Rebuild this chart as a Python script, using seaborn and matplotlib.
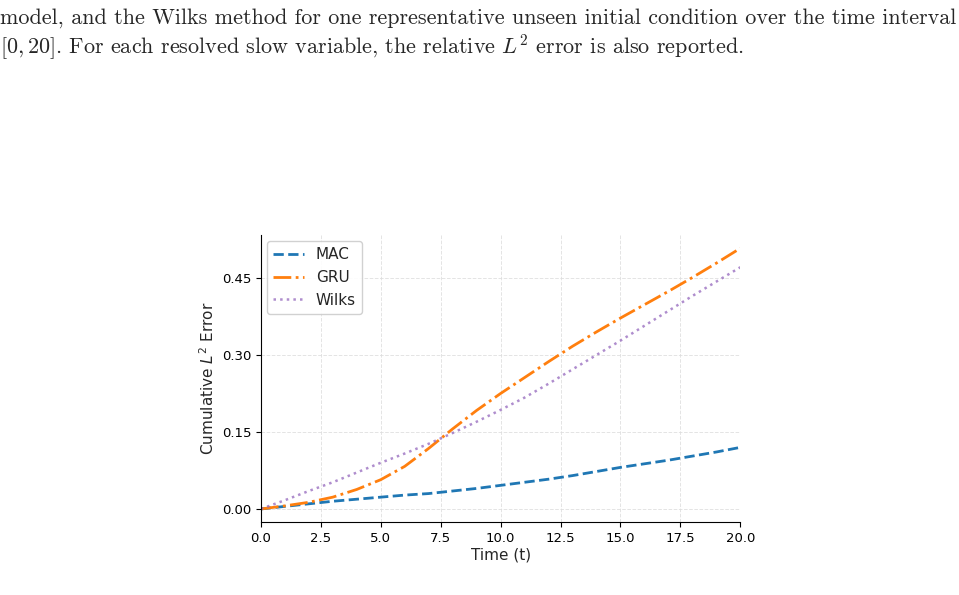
import matplotlib
matplotlib.use("Agg")
import matplotlib.pyplot as plt
import seaborn as sns
import pandas as pd

# cumulative L2 error, t = 0..20 step 1
time = [0, 1, 2, 3, 4, 5, 6, 7, 8, 9, 10, 11, 12, 13, 14, 15, 16, 17, 18, 19, 20]
mac = [0, 0.005, 0.010, 0.015, 0.019, 0.023, 0.027, 0.030, 0.035, 0.040, 0.046,
       0.052, 0.058, 0.065, 0.073, 0.081, 0.088, 0.095, 0.103, 0.111, 0.120]
gru = [0, 0.006, 0.013, 0.023, 0.038, 0.057, 0.083, 0.118, 0.156, 0.192, 0.225,
       0.256, 0.287, 0.317, 0.345, 0.372, 0.398, 0.424, 0.451, 0.479, 0.508]
wilks = [0, 0.017, 0.035, 0.052, 0.071, 0.090, 0.108, 0.127, 0.148, 0.170, 0.193,
         0.217, 0.244, 0.272, 0.300, 0.328, 0.357, 0.386, 0.415, 0.443, 0.471]

methods = ["MAC", "GRU", "Wilks"]
y_ticks = [0.00, 0.15, 0.30, 0.45]
x_ticks = [0.0, 2.5, 5.0, 7.5, 10.0, 12.5, 15.0, 17.5, 20.0]

caption_1 = "model, and the Wilks method for one representative unseen initial condition over the time interval"
caption_2 = r"$[0, 20]$. For each resolved slow variable, the relative $L^2$ error is also reported."

df = pd.DataFrame({
    "t": time * 3,
    "err": mac + gru + wilks,
    "method": ["MAC"] * len(time) + ["GRU"] * len(time) + ["Wilks"] * len(time),
})

sns.set_style("ticks")

fig = plt.figure(figsize=(9.59, 5.95), dpi=100)
ax = fig.add_axes([0.272, 0.1227, 0.5, 0.482])

styles = {
    "MAC": dict(color="#1f77b4", linestyle="--", linewidth=2.0),
    "GRU": dict(color="#ff7f0e", linestyle="-.", linewidth=2.0),
    "Wilks": dict(color="#9467bd", linestyle=":", linewidth=1.8, alpha=0.75),
}
for m in methods:
    sns.lineplot(data=df[df["method"] == m], x="t", y="err", ax=ax, label=m, **styles[m])

ax.set_xlim(0, 20)
ax.set_xticks(x_ticks)
ax.set_yticks(y_ticks)
ax.set_yticklabels([f"{v:.2f}" for v in y_ticks])
ax.tick_params(labelsize=9.5, colors="black")
ax.set_xlabel("Time (t)", fontsize=11, labelpad=2)
ax.set_ylabel(r"Cumulative $L^2$ Error", fontsize=11, labelpad=3)
ax.grid(True, linestyle="--", linewidth=0.7, color="#dddddd", alpha=0.8)
sns.despine(ax=ax)
for s in ["left", "bottom"]:
    ax.spines[s].set_color("black")
ax.legend(loc="upper left", fontsize=11, handlelength=2.0, framealpha=0.9,
          borderaxespad=0.4)

fig.text(0.0, 0.97, caption_1, fontsize=15.9, family="cmr10", math_fontfamily="cm",
         va="center", ha="left")
fig.text(0.0, 0.921, caption_2, fontsize=15.9, family="cmr10", math_fontfamily="cm",
         va="center", ha="left")

plt.savefig("out.png", dpi=100)
